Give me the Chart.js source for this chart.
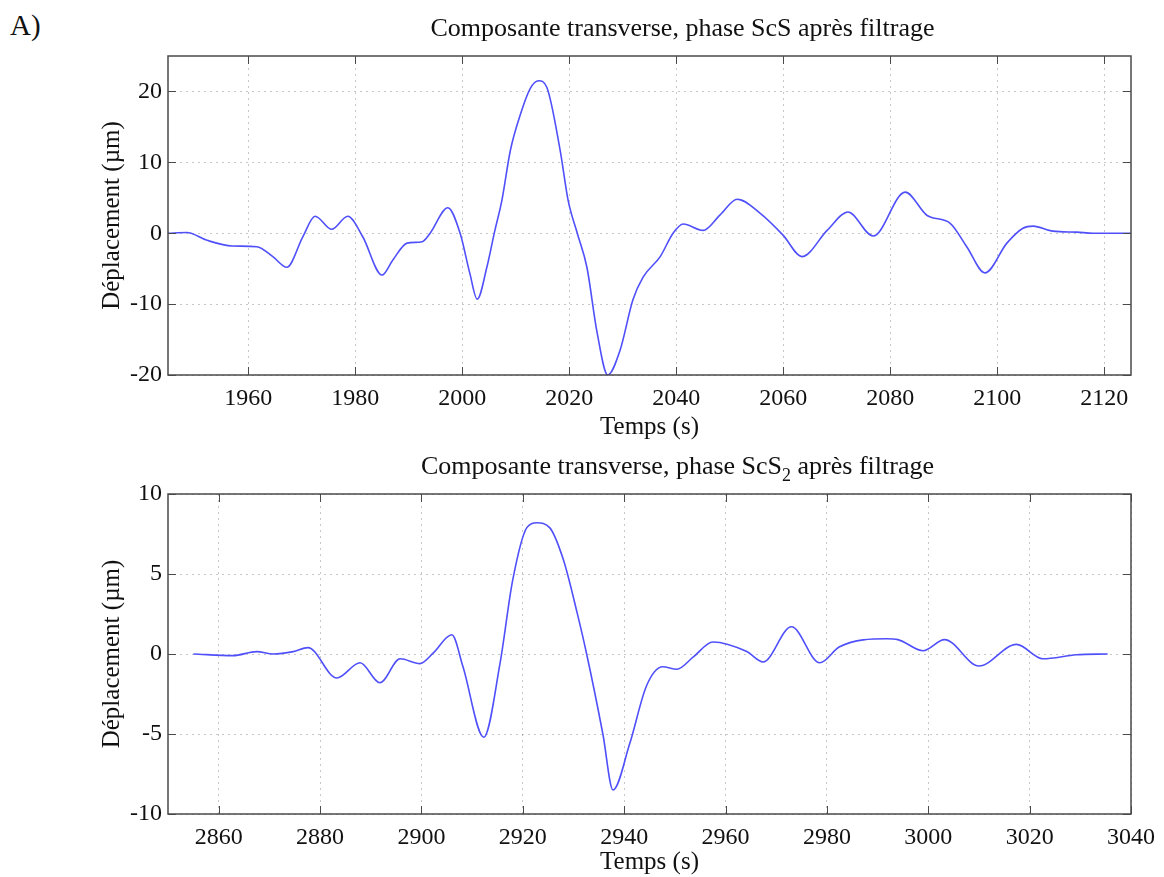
<!DOCTYPE html>
<html lang="fr">
<head>
<meta charset="utf-8">
<title>Composante transverse, ScS et ScS2</title>
<script src="https://cdn.jsdelivr.net/npm/chart.js@4/dist/chart.umd.min.js"></script>
<style>
    body { margin: 0; background: #fff; }
    #page { position: relative; width: 1164px; height: 877px; }
    #etiquette { position: absolute; left: 10px; top: 9px; font: 29px "Liberation Serif", serif; color: #111; }
    .boite { position: absolute; left: 0; width: 1164px; }
    #boite1 { top: 0; height: 442px; }
    #boite2 { top: 442px; height: 435px; }
</style>
</head>
<body>
<div id="page">
    <div id="etiquette">A)</div>
    <div class="boite" id="boite1"><canvas id="graphScS"></canvas></div>
    <div class="boite" id="boite2"><canvas id="graphScS2"></canvas></div>
</div>
<script>
// phase ScS (temps en s, déplacement en µm)
const tempsScS = [1945, 1948.5, 1952.3, 1957, 1961.6, 1964.6, 1967.2, 1970.2, 1972.5, 1975.6,
    1978.6, 1981.4, 1985, 1987, 1989.7, 1992.5, 1994, 1997.3, 1999.6, 2001.4,
    2002.8, 2004.6, 2006.1, 2007.4, 2009, 2010.8, 2012.7, 2014.3, 2015.8, 2018.3,
    2019.8, 2021.5, 2023.3, 2025.2, 2027.2, 2029.5, 2031.9, 2033.8, 2037, 2039.4,
    2041.3, 2045, 2048.2, 2051.4, 2055.7, 2060, 2063.5, 2068.2, 2072.1, 2076.8,
    2082.8, 2086.9, 2091.2, 2094.3, 2097.7, 2101.8, 2104.8, 2106.7, 2110.4, 2114.9,
    2117.9, 2125];
const deplScS = [0, 0.1, -1.0, -1.8, -1.9, -3.3, -4.8, -0.5, 2.4, 0.55,
    2.4, -0.5, -5.9, -3.8, -1.4, -1.2, 0, 3.6, 0, -5.6,
    -9.3, -4.8, 0.4, 4.6, 11.7, 16.6, 20.4, 21.5, 20.6, 11.7,
    4.6, 0, -4.8, -14, -20, -16.5, -9.4, -6.2, -3.3, 0,
    1.3, 0.4, 2.6, 4.8, 2.8, -0.3, -3.3, 0.4, 3.0, -0.4,
    5.8, 2.5, 1.4, -1.9, -5.6, -1.4, 0.7, 1.0, 0.3, 0.15,
    0, 0];

// phase ScS2
const tempsScS2 = [2855, 2862.8, 2867.5, 2870.7, 2874.7, 2877.6, 2883.3, 2887.9, 2891.8, 2895.8,
    2899.7, 2902.3, 2906, 2908.2, 2912.3, 2915.5, 2918, 2920.8, 2922.8, 2925.3,
    2928, 2930.7, 2932.6, 2935.8, 2937.8, 2941.1, 2944.4, 2947.6, 2950.4, 2953.6,
    2957.5, 2964.2, 2967.4, 2973, 2978.6, 2982.5, 2991.8, 2994, 2999, 3003.2,
    3010, 3017.4, 3022.6, 3029.2, 3035.4];
const deplScS2 = [0, -0.1, 0.15, 0, 0.15, 0.4, -1.5, -0.55, -1.8, -0.3,
    -0.6, 0.05, 1.2, -0.8, -5.2, -0.6, 4.6, 7.9, 8.2, 7.9,
    5.9, 2.6, 0, -5, -8.5, -5.6, -2.0, -0.8, -0.95, -0.2,
    0.75, 0.15, -0.5, 1.7, -0.55, 0.45, 0.95, 0.9, 0.2, 0.9,
    -0.75, 0.6, -0.3, -0.05, 0];

// axes : bornes et graduations
const bornesX1 = [1945, 2125];
const bornesY1 = [-20, 25];
const gradX1 = [1960, 1980, 2000, 2020, 2040, 2060, 2080, 2100, 2120];
const gradY1 = [-20, -10, 0, 10, 20];
const bornesX2 = [2850, 3040];
const bornesY2 = [-10, 10];
const gradX2 = [2860, 2880, 2900, 2920, 2940, 2960, 2980, 3000, 3020, 3040];
const gradY2 = [-10, -5, 0, 5, 10];

const police = '"Liberation Serif", "Times New Roman", serif';
const bleu = 'rgb(80, 80, 250)';

// cadre façon matlab : boîte, graduations vers l'intérieur, titre avec indice
const cadreMatlab = {
    id: 'cadreMatlab',
    afterDraw(chart, args, opts) {
        const { ctx, chartArea: a, scales: { x, y } } = chart;
        ctx.save();
        ctx.strokeStyle = '#4a4a4a';
        ctx.lineWidth = 1;
        ctx.beginPath();
        x.ticks.forEach(t => {
            const px = Math.round(x.getPixelForValue(t.value)) + 0.5;
            ctx.moveTo(px, a.bottom); ctx.lineTo(px, a.bottom - 8);
            ctx.moveTo(px, a.top); ctx.lineTo(px, a.top + 8);
        });
        y.ticks.forEach(t => {
            const py = Math.round(y.getPixelForValue(t.value)) + 0.5;
            ctx.moveTo(a.left, py); ctx.lineTo(a.left + 8, py);
            ctx.moveTo(a.right, py); ctx.lineTo(a.right - 8, py);
        });
        ctx.stroke();
        ctx.lineWidth = 1.5;
        ctx.strokeRect(a.left, a.top, a.width, a.height);

        // titre
        const grand = '26px ' + police, petit = '18px ' + police;
        ctx.fillStyle = '#111';
        ctx.textBaseline = 'alphabetic';
        let largeur = 0;
        opts.morceaux.forEach(m => {
            ctx.font = m.indice ? petit : grand;
            largeur += ctx.measureText(m.texte).width;
        });
        let px = (a.left + a.right) / 2 + opts.decalage - largeur / 2;
        opts.morceaux.forEach(m => {
            ctx.font = m.indice ? petit : grand;
            ctx.fillText(m.texte, px, a.top + opts.ligne + (m.indice ? 7 : 0));
            px += ctx.measureText(m.texte).width;
        });
        ctx.restore();
    }
};

function graduations(valeurs) {
    return function (scale) {
        scale.ticks = valeurs.map(v => ({ value: v }));
    };
}

function tracer(id, temps, depl, bornesX, gradX, bornesY, gradY, hautX, hautPad, morceaux, decalage) {
    const points = temps.map((t, i) => ({ x: t, y: depl[i] }));
    return new Chart(document.getElementById(id), {
        type: 'line',
        data: {
            datasets: [{
                data: points,
                borderColor: bleu,
                borderWidth: 1.6,
                pointRadius: 0,
                fill: false,
                cubicInterpolationMode: 'monotone'
            }]
        },
        options: {
            responsive: true,
            maintainAspectRatio: false,
            animation: false,
            layout: { padding: { top: hautPad, right: 33, left: 0, bottom: 0 } },
            plugins: {
                legend: { display: false },
                tooltip: { enabled: false },
                cadreMatlab: { morceaux: morceaux, decalage: decalage, ligne: -20 }
            },
            scales: {
                x: {
                    type: 'linear',
                    min: bornesX[0], max: bornesX[1],
                    afterBuildTicks: graduations(gradX),
                    afterFit: s => { s.height = hautX; },
                    grid: { color: 'rgba(0,0,0,0.22)', drawTicks: false },
                    border: { display: false, dash: [2, 4] },
                    ticks: {
                        autoSkip: false, maxRotation: 0, padding: 9,
                        color: '#111', font: { family: police, size: 24 },
                        callback: v => String(v)
                    },
                    title: {
                        display: true, text: 'Temps (s)', color: '#111',
                        font: { family: police, size: 25 }, padding: { top: 0, bottom: 0 }
                    }
                },
                y: {
                    min: bornesY[0], max: bornesY[1],
                    afterBuildTicks: graduations(gradY),
                    afterFit: s => { s.width = 168; },
                    grid: { color: 'rgba(0,0,0,0.22)', drawTicks: false },
                    border: { display: false, dash: [2, 4] },
                    ticks: {
                        padding: 6,
                        color: '#111', font: { family: police, size: 24 },
                        callback: v => String(v)
                    },
                    title: {
                        display: true, text: 'Déplacement (µm)', color: '#111',
                        font: { family: police, size: 25 }, padding: { top: 97, bottom: 0 }
                    }
                }
            }
        },
        plugins: [cadreMatlab]
    });
}

tracer('graphScS', tempsScS, deplScS, bornesX1, gradX1, bornesY1, gradY1, 67, 56,
    [{ texte: 'Composante transverse, phase ScS après filtrage' }], 33);
tracer('graphScS2', tempsScS2, deplScS2, bornesX2, gradX2, bornesY2, gradY2, 63, 52,
    [{ texte: 'Composante transverse, phase ScS' }, { texte: '2', indice: true }, { texte: ' après filtrage' }], 28);
</script>
</body>
</html>
